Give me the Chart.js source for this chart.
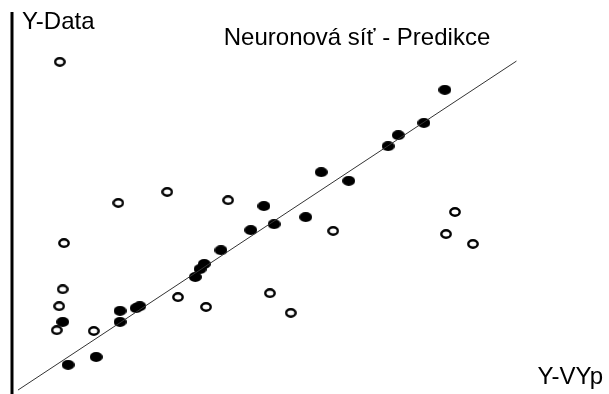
<!DOCTYPE html>
<html>
<head>
<meta charset="utf-8">
<title>Neuronová síť - Predikce</title>
<script src="https://cdn.jsdelivr.net/npm/chart.js@4/dist/chart.umd.min.js"></script>
<style>
    body { margin: 0; background: #fff; }
    #chart-div { position: relative; width: 609px; height: 394px; }
</style>
</head>
<body>
<div id="chart-div"><canvas id="chart"></canvas></div>
<script>
// predicted (x) vs. data (y)
const trainX = [72.5, 69.0, 64.7, 63.0, 56.4, 51.8, 49.2, 43.9, 42.2, 40.0, 35.0, 32.2, 31.5, 30.7, 21.4, 20.8, 18.1, 18.1, 8.5, 14.1, 9.4];
const trainY = [77.2, 68.8, 65.7, 62.9, 54.1, 56.3, 44.9, 43.1, 47.7, 41.6, 36.5, 33.0, 31.7, 29.7, 22.3, 21.8, 21.1, 18.3, 18.3, 9.4, 7.4];
const testX = [8.0, 17.8, 26.0, 36.2, 8.7, 8.5, 7.9, 7.5, 13.7, 27.8, 32.5, 43.2, 46.7, 53.8, 74.2, 72.7, 77.2];
const testY = [84.3, 48.5, 51.3, 49.2, 38.3, 26.6, 22.3, 16.2, 16.0, 24.6, 22.1, 25.6, 20.6, 41.4, 46.2, 40.6, 38.1];
const idealLine = [1, 84.5];

const toPoints = (xs, ys) => xs.map((x, i) => ({x: x, y: ys[i]}));

// ellipse shaped markers like in the original picture
const makeDot = function(w, h, filled) {
    let c = document.createElement('canvas');
    c.width = w;
    c.height = h;
    let ctx = c.getContext('2d');
    ctx.beginPath();
    if (filled) {
        ctx.ellipse(w / 2, h / 2, w / 2, h / 2, 0, 0, Math.PI * 2);
        ctx.fillStyle = '#000';
        ctx.fill();
    } else {
        ctx.ellipse(w / 2, h / 2, w / 2 - 1.3, h / 2 - 1.3, 0, 0, Math.PI * 2);
        ctx.fillStyle = '#fff';
        ctx.fill();
        ctx.lineWidth = 2.4;
        ctx.strokeStyle = '#000';
        ctx.stroke();
    }
    return c;
};

const labelsPlugin = {
    id: 'labels',
    afterDraw(chart) {
        const ctx = chart.ctx;
        const area = chart.chartArea;
        ctx.save();
        // the y axis
        ctx.strokeStyle = '#000';
        ctx.lineWidth = 3;
        ctx.beginPath();
        ctx.moveTo(area.left, area.top + 12);
        ctx.lineTo(area.left, area.bottom);
        ctx.stroke();

        ctx.fillStyle = '#000';
        ctx.font = '24px "Liberation Sans", Arial, sans-serif';
        ctx.textBaseline = 'alphabetic';
        ctx.textAlign = 'left';
        ctx.fillText('Y-Data', area.left + 10, 29);
        ctx.textAlign = 'center';
        ctx.fillText('Neuronová síť - Predikce', 357, 45);
        ctx.textAlign = 'right';
        ctx.fillText('Y-VYp', 603, 384);
        ctx.restore();
    }
};

const config = {
    type: 'scatter',
    data: {
        datasets: [
            {
                label: 'ideal',
                data: [{x: idealLine[0], y: idealLine[0]}, {x: idealLine[1], y: idealLine[1]}],
                showLine: true,
                borderColor: '#333',
                borderWidth: 1,
                pointRadius: 0
            },
            {
                label: 'train',
                data: toPoints(trainX, trainY),
                pointStyle: makeDot(13, 10, true)
            },
            {
                label: 'test',
                data: toPoints(testX, testY),
                pointStyle: makeDot(12, 10, false)
            }
        ]
    },
    options: {
        responsive: true,
        maintainAspectRatio: false,
        animation: false,
        layout: { autoPadding: false, padding: { left: 12, right: 0, top: 0, bottom: 0 } },
        scales: {
            x: { type: 'linear', min: 0, max: 100, display: false },
            y: { type: 'linear', min: 0, max: 100, display: false }
        },
        plugins: {
            legend: { display: false },
            tooltip: { enabled: false }
        },
        clip: false
    },
    plugins: [labelsPlugin]
};

new Chart(document.getElementById('chart'), config);
</script>
</body>
</html>
